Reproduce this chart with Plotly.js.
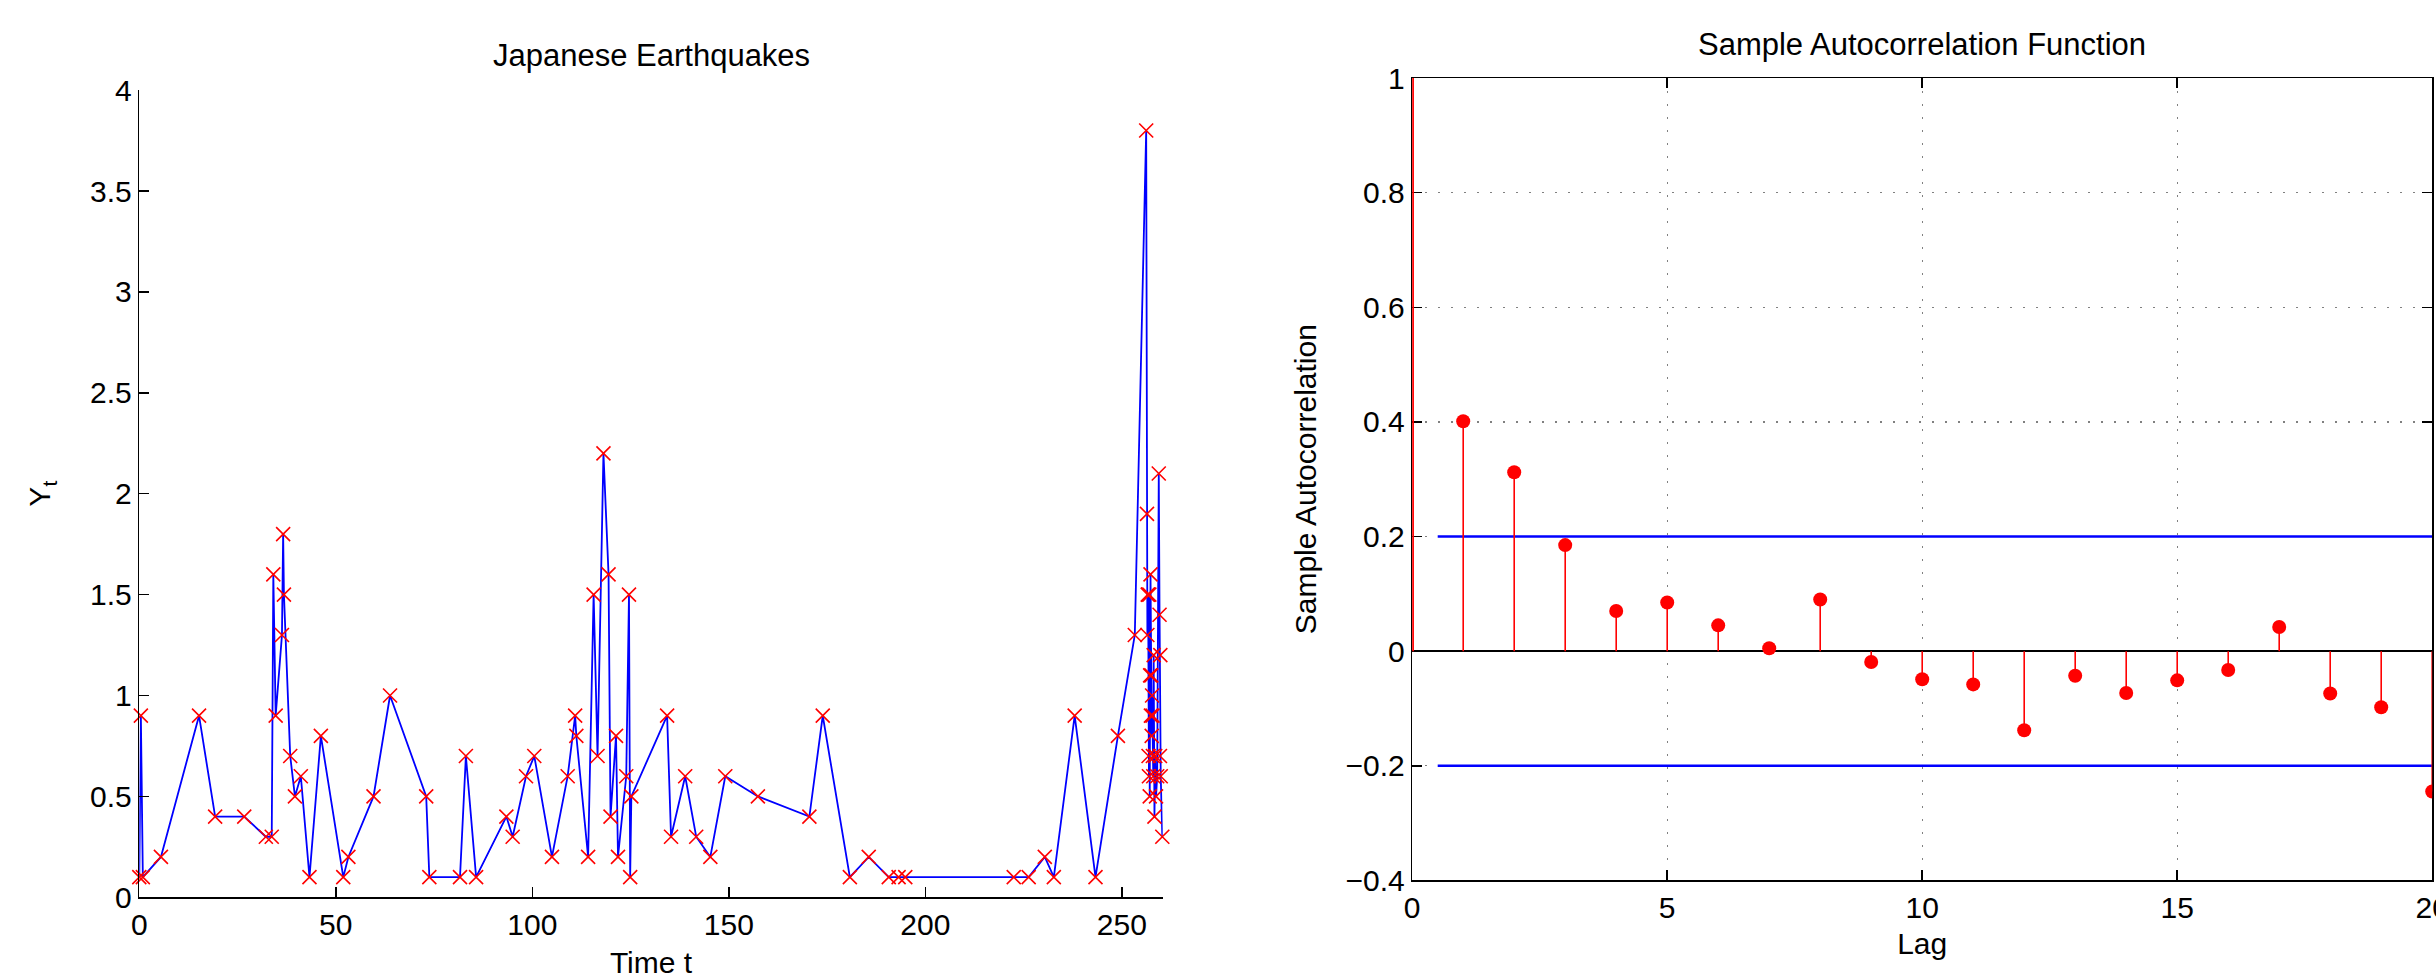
<!DOCTYPE html>
<html>
<head>
<meta charset="utf-8">
<script src="https://cdn.plot.ly/plotly-3.0.1.min.js"></script>
<style>
html,body{margin:0;padding:0;overflow:hidden;background:#fff;}
#chart{width:2436px;height:979px;}
</style>
</head>
<body>
<div id="chart"></div>
<script>
// ---- Left panel: Japanese earthquakes time series ----
const timeT = [0, 0.4, 0.9, 5.5, 15.2, 19.3, 26.7, 32.2, 33.7, 34.1, 34.7, 36.3, 36.6, 36.8, 38.4, 39.6, 41.1, 43.3, 46.2, 51.9,
  53.2, 59.6, 63.8, 73.0, 73.8, 81.6, 83.1, 85.7, 93.4, 95.0, 98.4, 100.5, 105.0, 109.0, 110.9, 111.2, 114.2, 115.6, 116.6, 118.1,
  119.4, 119.9, 121.3, 121.8, 123.9, 124.6, 124.9, 125.2, 134.3, 135.3, 138.9, 141.7, 145.3, 149.1, 157.4, 170.5, 173.9, 180.8, 185.6, 190.7,
  193.2, 194.9, 222.5, 226.3, 230.4, 232.7, 238.0, 243.3, 249.0, 253.3, 256.2, 256.4, 256.5, 256.6, 256.7, 256.8, 256.9, 257.0, 257.1, 257.2,
  257.3, 257.4, 257.5, 257.6, 257.7, 257.8, 257.9, 258.0, 258.1, 258.3, 258.5, 258.7, 259.0, 259.4, 259.6, 259.7, 259.8, 259.9, 260.3];
const quakeY = [0.1, 0.9, 0.1, 0.2, 0.9, 0.4, 0.4, 0.3, 0.3, 1.6, 0.9, 1.3, 1.8, 1.5, 0.7, 0.5, 0.6, 0.1, 0.8, 0.1,
  0.2, 0.5, 1.0, 0.5, 0.1, 0.1, 0.7, 0.1, 0.4, 0.3, 0.6, 0.7, 0.2, 0.6, 0.9, 0.8, 0.2, 1.5, 0.7, 2.2,
  1.6, 0.4, 0.8, 0.2, 0.6, 1.5, 0.1, 0.5, 0.9, 0.3, 0.6, 0.3, 0.2, 0.6, 0.5, 0.4, 0.9, 0.1, 0.2, 0.1,
  0.1, 0.1, 0.1, 0.1, 0.2, 0.1, 0.9, 0.1, 0.8, 1.3, 3.8, 1.9, 1.3, 1.5, 1.5, 0.7, 0.6, 1.5, 0.5, 1.1,
  1.6, 0.9, 1.1, 0.8, 1.0, 0.9, 0.7, 0.6, 1.2, 0.4, 0.7, 0.5, 0.6, 2.1, 1.4, 0.7, 1.2, 0.6, 0.3];

// ---- Right panel: sample autocorrelation ----
const lags = [0, 1, 2, 3, 4, 5, 6, 7, 8, 9, 10, 11, 12, 13, 14, 15, 16, 17, 18, 19, 20];
const acf = [1, 0.401, 0.312, 0.185, 0.070, 0.085, 0.045, 0.005, 0.090, -0.019, -0.049, -0.058, -0.138, -0.043, -0.073, -0.051, -0.033, 0.042, -0.074, -0.098, -0.245];
const confBound = 0.2;
const boundLags = [0.5, 20];

// stems built from the data (lag 0 drawn separately, it sits on the frame)
const stemX = [], stemY = [];
lags.forEach((l, i) => { if (i > 0) { stemX.push(l, l, null); stemY.push(0, acf[i], null); } });

const FONT = 'Liberation Sans, Arial, Helvetica, sans-serif';

const traces = [
  {x: timeT, y: quakeY, type: 'scatter', mode: 'lines', xaxis: 'x', yaxis: 'y',
   line: {color: '#0000ff', width: 1.8}, hoverinfo: 'skip', showlegend: false},
  {x: timeT, y: quakeY, type: 'scatter', mode: 'markers', xaxis: 'x', yaxis: 'y', cliponaxis: false,
   marker: {symbol: 'x-thin', size: 14, color: '#ff0000', line: {color: '#ff0000', width: 1.6}}, showlegend: false},
  {x: [boundLags[0], boundLags[1]], y: [confBound, confBound], type: 'scatter', mode: 'lines', xaxis: 'x2', yaxis: 'y2',
   line: {color: '#0000ff', width: 2.5}, showlegend: false},
  {x: [boundLags[0], boundLags[1]], y: [-confBound, -confBound], type: 'scatter', mode: 'lines', xaxis: 'x2', yaxis: 'y2',
   line: {color: '#0000ff', width: 2.5}, showlegend: false},
  {x: [lags[0], lags[0]], y: [0, acf[0]], type: 'scatter', mode: 'lines', xaxis: 'x2', yaxis: 'y2',
   line: {color: '#ff0000', width: 3.5}, showlegend: false},
  {x: stemX, y: stemY, type: 'scatter', mode: 'lines', xaxis: 'x2', yaxis: 'y2',
   line: {color: '#ff0000', width: 1.6}, showlegend: false, connectgaps: false},
  {x: lags.slice(1), y: acf.slice(1), type: 'scatter', mode: 'markers', xaxis: 'x2', yaxis: 'y2',
   marker: {symbol: 'circle', size: 14, color: '#ff0000'}, showlegend: false}
];

const axFont = {family: FONT, size: 30, color: '#000'};
const layout = {
  width: 2436, height: 979,
  margin: {l: 0, r: 0, t: 0, b: 0},
  paper_bgcolor: '#fff', plot_bgcolor: '#fff',
  font: {family: FONT, size: 30, color: '#000'},
  showlegend: false,
  xaxis: {domain: [139.3/2436, 1162.7/2436], range: [0, 260.4], tickmode: 'linear', tick0: 0, dtick: 50,
    ticks: 'inside', ticklen: 10, tickwidth: 1.5, tickcolor: '#000', showline: true, linecolor: '#000', linewidth: 1.5,
    showgrid: false, zeroline: false, mirror: false, tickfont: axFont,
    title: {text: 'Time t', font: {family: FONT, size: 30, color: '#000'}, standoff: 12}},
  yaxis: {domain: [(979-897.3)/979, (979-90.1)/979], range: [0, 4], tickmode: 'linear', tick0: 0, dtick: 0.5,
    ticks: 'inside', ticklen: 10, tickwidth: 1.5, tickcolor: '#000', showline: true, linecolor: '#000', linewidth: 1.5,
    showgrid: false, zeroline: false, mirror: false, tickfont: axFont,
    title: {text: 'Y<sub>t</sub>', font: {family: FONT, size: 30, color: '#000'}, standoff: 30}},
  xaxis2: {domain: [1412.2/2436, 2432.2/2436], range: [0, 20], tickmode: 'linear', tick0: 0, dtick: 5, anchor: 'y2',
    ticks: 'inside', ticklen: 10, tickwidth: 1.5, tickcolor: '#000', showline: true, linecolor: '#000', linewidth: 1.5,
    mirror: 'ticks', showgrid: true, gridcolor: '#808080', gridwidth: 1.3, griddash: '2px,11px', zeroline: false,
    layer: 'below traces', tickfont: axFont, ticklabeloverflow: 'allow',
    title: {text: 'Lag', font: {family: FONT, size: 30, color: '#000'}, standoff: 10}},
  yaxis2: {domain: [(979-880.4)/979, (979-78)/979], range: [-0.4, 1], tickmode: 'linear', tick0: -0.4, dtick: 0.2, anchor: 'x2',
    ticks: 'inside', ticklen: 10, tickwidth: 1.5, tickcolor: '#000', showline: true, linecolor: '#000', linewidth: 1.5,
    mirror: 'ticks', showgrid: true, gridcolor: '#808080', gridwidth: 1.3, griddash: '2px,11px',
    zeroline: true, zerolinecolor: '#000', zerolinewidth: 1.5,
    layer: 'below traces', tickfont: axFont,
    title: {text: 'Sample Autocorrelation', font: {family: FONT, size: 30, color: '#000'}, standoff: 20}},
  annotations: [
    {text: 'Japanese Earthquakes', xref: 'paper', yref: 'paper', x: 651/2436, y: (979-56)/979,
     xanchor: 'center', yanchor: 'middle', showarrow: false, font: {family: FONT, size: 31, color: '#000'}},
    {text: 'Sample Autocorrelation Function', xref: 'paper', yref: 'paper', x: 1922.2/2436, y: (979-44)/979,
     xanchor: 'center', yanchor: 'middle', showarrow: false, font: {family: FONT, size: 31, color: '#000'}}
  ]
};

Plotly.newPlot('chart', traces, layout, {displayModeBar: false, staticPlot: true});
</script>
</body>
</html>
